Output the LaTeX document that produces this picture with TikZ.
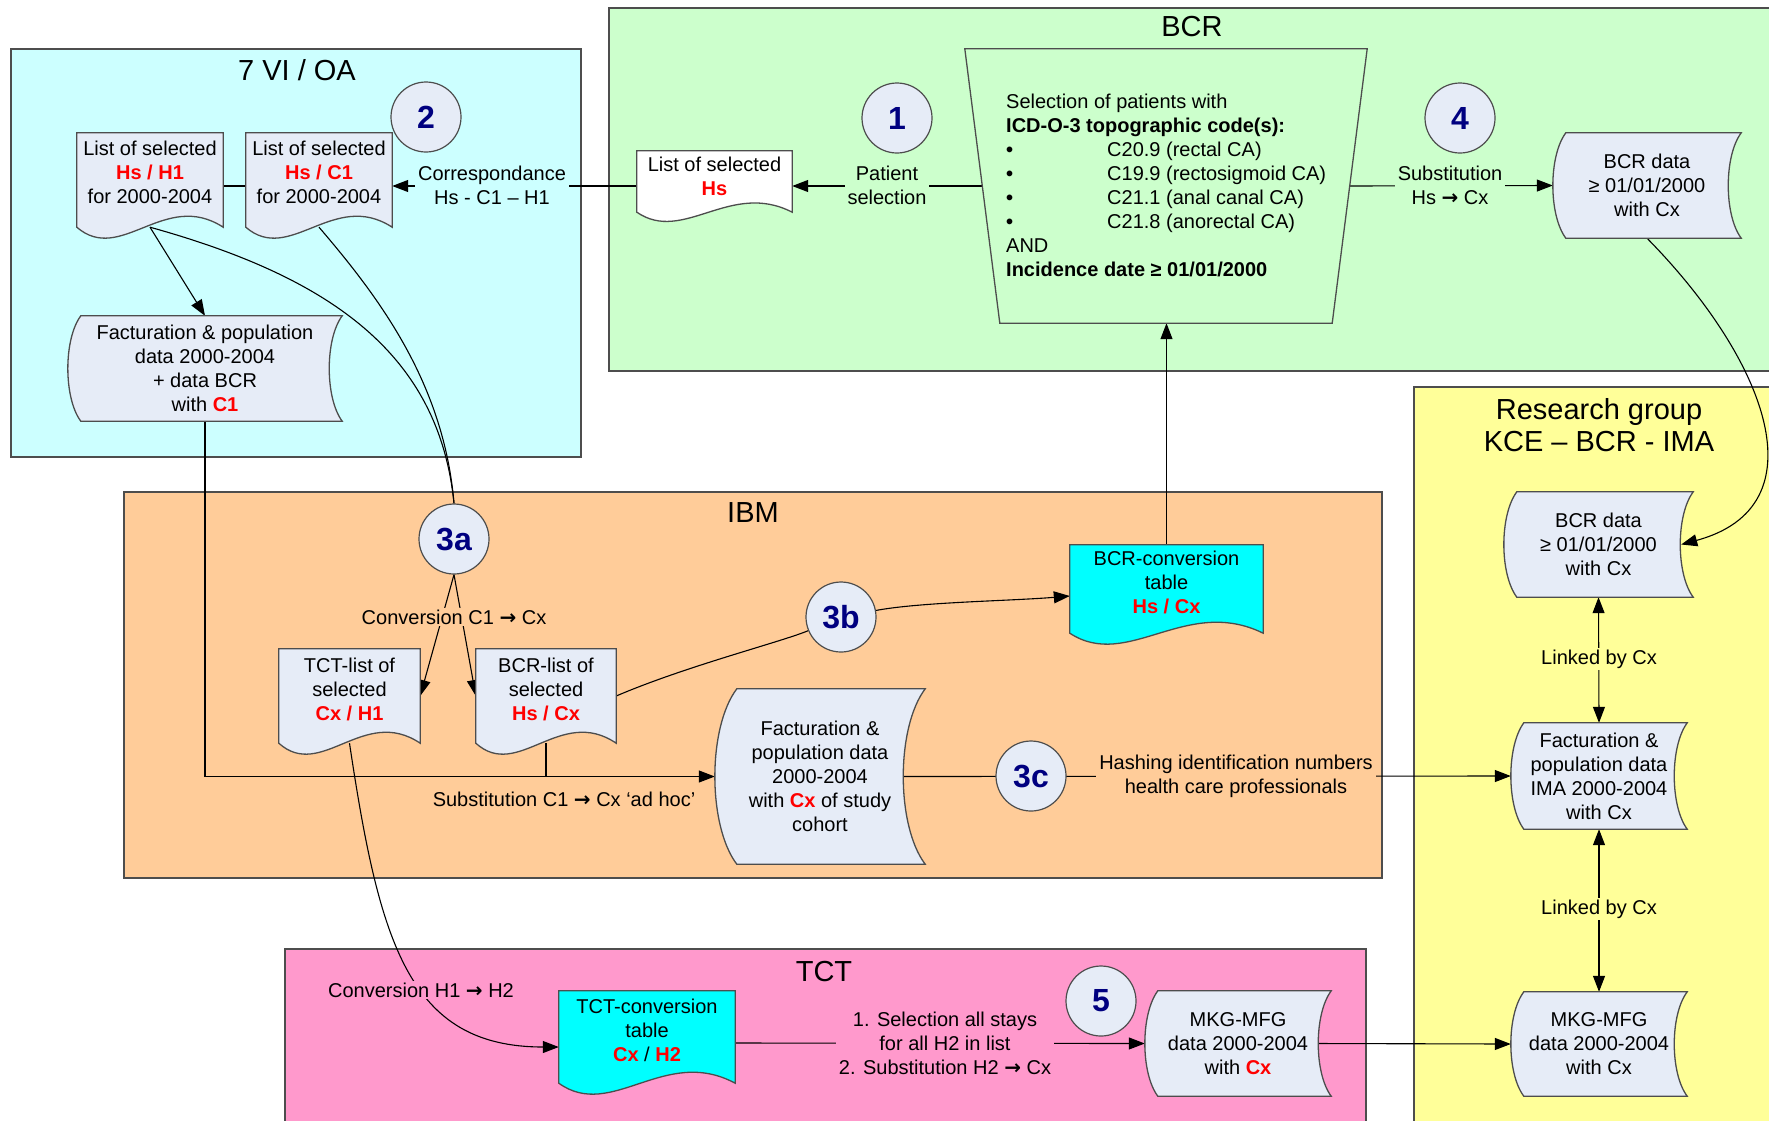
\documentclass[tikz,border=0pt]{standalone}
\usepackage{fontspec}
\setmainfont{Liberation Sans}
\newfontfamily\djv{DejaVu Sans}
\newcommand\rarr{{\djv\bfseries →}}
\usetikzlibrary{arrows.meta,calc}
\definecolor{oacol}{HTML}{CCFFFF}
\definecolor{bcrcol}{HTML}{CCFFCC}
\definecolor{ibmcol}{HTML}{FFCC99}
\definecolor{rescol}{HTML}{FFFF99}
\definecolor{tctcol}{HTML}{FF99CC}
\definecolor{shpfill}{HTML}{E6ECF7}
\definecolor{cyanfill}{HTML}{00FFFF}
\definecolor{navy}{HTML}{000080}
\definecolor{bordc}{HTML}{4D4D4D}
\definecolor{redtx}{HTML}{FF0000}
\newcommand\rtx[1]{\textcolor{redtx}{\bfseries #1}}
\pgfdeclarelayer{bg}\pgfdeclarelayer{mid}\pgfdeclarelayer{shp}
\pgfsetlayers{bg,mid,shp,main}
% document shape with wavy bottom: #1 node, #2 style, #3 wave control offset
\newcommand\docshape[3]{\path[#2] let \p1=(#1.north west), \p2=(#1.south east), \n1={\x2-\x1} in
  (\x1,\y1) -- (\x2,\y1) -- (\x2,\y2) .. controls ({\x2-0.4*\n1},{\y2+#3pt}) and ({\x1+0.3*\n1},{\y2-#3pt}) .. (\x1,\y2) -- cycle;}
% stored data shape: #1 node, #2 style, #3 bulge
\newcommand\storeshape[3]{\path[#2] let \p1=(#1.north west), \p2=(#1.south east), \n1={\y1-\y2} in
  ({\x1+#3pt},\y1) -- (\x2,\y1)
  .. controls ({\x2-1.33*#3pt},{\y1-0.22*\n1}) and ({\x2-1.33*#3pt},{\y2+0.22*\n1}) .. (\x2,\y2)
  -- ({\x1+#3pt},\y2)
  .. controls ({\x1-0.33*#3pt},{\y2+0.22*\n1}) and ({\x1-0.33*#3pt},{\y1-0.22*\n1}) .. ({\x1+#3pt},\y1) -- cycle;}
\tikzset{
  cont/.style={draw=bordc, line width=1.3pt},
  ttl/.style={font=\fontsize{29}{32}\selectfont, align=center, inner sep=0},
  txt/.style={font=\fontsize{20}{24}\selectfont, align=center, inner sep=0},
  lbl/.style={txt, inner xsep=3pt, inner ysep=2pt},
  num/.style={circle, draw=bordc, line width=1.2pt, fill=shpfill, minimum size=70pt, inner sep=0,
    font=\fontsize{32}{32}\selectfont\bfseries, text=navy},
  shp/.style 2 args={txt, minimum width=#1pt, minimum height=#2pt, inner sep=0},
  docst/.style={draw=bordc, line width=1.3pt, fill=shpfill},
  docw/.style={docst, fill=white},
  docc/.style={docst, fill=cyanfill},
  trap/.style={docst, fill=bcrcol},
  conn/.style={draw=black, line width=1.1pt},
  arr/.style={conn, -{Triangle[length=16pt,width=12pt]}},
  darr/.style={conn, {Triangle[length=16pt,width=12pt]}-{Triangle[length=16pt,width=12pt]}},
}
\begin{document}
\begin{tikzpicture}[x=1pt,y=-1pt]
\useasboundingbox (0,0) rectangle (1769,1120);
% containers
\begin{pgfonlayer}{bg}
\path[cont, fill=white] (-5,-5) rectangle (1775,1125);
\path[cont, fill=oacol] (11,49) rectangle (581,457);
\path[cont, fill=bcrcol] (609,8) rectangle (1790,371);
\path[cont, fill=ibmcol] (124,492) rectangle (1382,878);
\path[cont, fill=rescol] (1414,387) rectangle (1790,1140);
\path[cont, fill=tctcol] (285,949) rectangle (1366,1140);
\end{pgfonlayer}
% titles
\node[ttl] (tOA) at (297,70) {7 VI / OA};
\node[ttl] (tBCR) at (1192,27) {BCR};
\node[ttl] (tIBM) at (753,513) {IBM};
\node[ttl] (tRES) at (1599,425) {Research group\\KCE – BCR - IMA};
\node[ttl] (tTCT) at (824,971) {TCT};
% number circles
\node[num] (n2) at (426,117) {2};
\node[num] (n1) at (897,118) {1};
\node[num] (n4) at (1460,118) {4};
\node[num] (n3a) at (454,539) {3a};
\node[num] (n3b) at (841,617) {3b};
\node[num] (n3c) at (1031,776) {3c};
\node[num] (n5) at (1101,1001) {5};
% document shapes
\node[shp={146}{94}] (dH1) at (150,180) {};
\node[txt] (dH1t) at (150,172) {List of selected\\\rtx{Hs / H1}\\for 2000-2004};
\node[shp={146}{94}] (dC1) at (319,180) {};
\node[txt] (dC1t) at (319,172) {List of selected\\\rtx{Hs / C1}\\for 2000-2004};
\node[shp={155}{61}] (dHs) at (714.5,181.5) {};
\node[txt] (dHst) at (714.5,176) {List of selected\\\rtx{Hs}};
\node[shp={141}{94}] (dTCT) at (349.5,696) {};
\node[txt] (dTCTt) at (349.5,689) {TCT-list of\\selected\\\rtx{Cx / H1}};
\node[shp={140}{94}] (dBCRl) at (546,696) {};
\node[txt] (dBCRlt) at (546,689) {BCR-list of\\selected\\\rtx{Hs / Cx}};
\node[shp={193}{88}] (dBCRc) at (1166.5,589) {};
\node[txt] (dBCRct) at (1166.5,582) {BCR-conversion\\table\\\rtx{Hs / Cx}};
\node[shp={176}{92}] (dTCTc) at (647,1037) {};
\node[txt] (dTCTct) at (647,1030) {TCT-conversion\\table\\\rtx{Cx} / \rtx{H2}};
% stored data shapes
\node[shp={274}{105}] (sFactC1) at (205,368.5) {Facturation \& population\\data 2000-2004\\+ data BCR\\with \rtx{C1}};
\node[shp={188}{105}] (sBCRd) at (1647,185.5) {BCR data\\≥ 01/01/2000\\with Cx};
\node[shp={210}{175}] (sStudy) at (820,776.5) {Facturation \&\\population data\\2000-2004\\with \rtx{Cx} of study\\cohort};
\node[shp={189}{105}] (sResBCR) at (1598.5,544.5) {BCR data\\≥ 01/01/2000\\with Cx};
\node[shp={176}{106}] (sResIMA) at (1599,776) {Facturation \&\\population data\\IMA 2000-2004\\with Cx};
\node[shp={176}{104}] (sResMKG) at (1599,1044) {MKG-MFG\\data 2000-2004\\with Cx};
\node[shp={186}{105}] (sMKG) at (1238,1043.5) {MKG-MFG\\data 2000-2004\\with \rtx{Cx}};
% selection trapezoid
\node[shp={402}{274}] (sel) at (1166,186) {};
\node[txt, align=left, anchor=west] (selt) at (1006,185.5) {Selection of patients with\\
\textbf{ICD-O-3 topographic code(s):}\\
\makebox[101pt][l]{\textbf{•}}C20.9 (rectal CA)\\
\makebox[101pt][l]{\textbf{•}}C19.9 (rectosigmoid CA)\\
\makebox[101pt][l]{\textbf{•}}C21.1 (anal canal CA)\\
\makebox[101pt][l]{\textbf{•}}C21.8 (anorectal CA)\\
AND\\
\textbf{Incidence date ≥ 01/01/2000}};
% outlines
\begin{pgfonlayer}{shp}
\docshape{dH1}{docst}{38}
\docshape{dC1}{docst}{38}
\docshape{dHs}{docw}{32}
\docshape{dTCT}{docst}{38}
\docshape{dBCRl}{docst}{38}
\docshape{dBCRc}{docc}{38}
\docshape{dTCTc}{docc}{38}
\storeshape{sFactC1}{docst}{13}
\storeshape{sBCRd}{docst}{13}
\storeshape{sStudy}{docst}{22}
\storeshape{sResBCR}{docst}{13}
\storeshape{sResIMA}{docst}{13}
\storeshape{sResMKG}{docst}{13}
\storeshape{sMKG}{docst}{13}
\path[trap] (sel.north west) -- (sel.north east) -- ([xshift=-35pt]sel.south east) -- ([xshift=35pt]sel.south west) -- cycle;
\end{pgfonlayer}
% labels on connectors
\node[lbl, fill=oacol] (corrL) at (492,185) {Correspondance\\Hs - C1 – H1};
\node[lbl, fill=bcrcol] (patL) at (887,185) {Patient\\selection};
\node[lbl, fill=bcrcol] (subL) at (1450,185) {Substitution\\Hs \rarr{} Cx};
\node[lbl, fill=ibmcol] (convL) at (454,617) {Conversion C1 \rarr{} Cx};
\node[txt] (adhocL) at (564,799) {Substitution C1 \rarr{} Cx ‘ad hoc’};
\node[lbl, fill=ibmcol] (hashL) at (1236,776) {Hashing identification numbers\\health care professionals};
\node[lbl, fill=tctcol] (conv2L) at (421,990) {Conversion H1 \rarr{} H2};
\node[lbl, fill=tctcol] (selL) at (945,1043) {1. Selection all stays\\for all H2 in list\\2. Substitution H2 \rarr{} Cx};
\node[lbl, fill=rescol] (link1) at (1599,659) {Linked by Cx};
\node[lbl, fill=rescol] (link2) at (1599,909) {Linked by Cx};
% connectors
\begin{pgfonlayer}{mid}
\draw[conn] ([yshift=-6pt]dH1.east) -- ([yshift=-6pt]dC1.west);
\draw[arr] ([yshift=-4.5pt]dHs.west) -- ([yshift=-6pt]dC1.east);
\draw[arr] ([xshift=17pt]sel.west) -- ([yshift=-4.5pt]dHs.east);
\draw[arr] ([xshift=-17.5pt]sel.east) -- (sBCRd.west);
\draw[arr] (sBCRd.south) .. controls +(120,122) and +(141,-38) .. ([xshift=-12pt]sResBCR.east);
\draw[arr] (dH1.south) -- (sFactC1.north);
\draw[conn] (dH1.south) .. controls +(180,50) and +(-15,-150) .. (n3a.north);
\draw[conn] (dC1.south) .. controls +(60,70) and +(-10,-120) .. (n3a.north);
\draw[arr] (sFactC1.south) |- (sStudy.west);
\draw[conn] (dBCRl.south) -- (dBCRl.south |- sStudy.west);
\draw[arr] (n3a.south) -- (dTCT.east);
\draw[arr] (n3a.south) -- (dBCRl.west);
\draw[conn] (dBCRl.east) .. controls +(70,-30) and +(-60,25) .. (n3b);
\draw[arr] (n3b) .. controls +(80,-15) and +(-60,5) .. ([yshift=-7pt]dBCRc.west);
\draw[arr] (dBCRc.north) -- (dBCRc.north |- sel.south);
\draw[arr] ([xshift=-22pt]sStudy.east) -- (sResIMA.west);
\draw[arr] (dTCT.south) .. controls +(30,200) and +(-150,0) .. ([yshift=-10pt]dTCTc.west);
\draw[arr] ([yshift=-6pt]dTCTc.east) -- (sMKG.west);
\draw[arr] ([xshift=-16pt]sMKG.east) -- (sResMKG.west);
\draw[darr] (sResBCR.south) -- (sResIMA.north);
\draw[darr] (sResIMA.south) -- (sResMKG.north);
\end{pgfonlayer}
\end{tikzpicture}
\end{document}
